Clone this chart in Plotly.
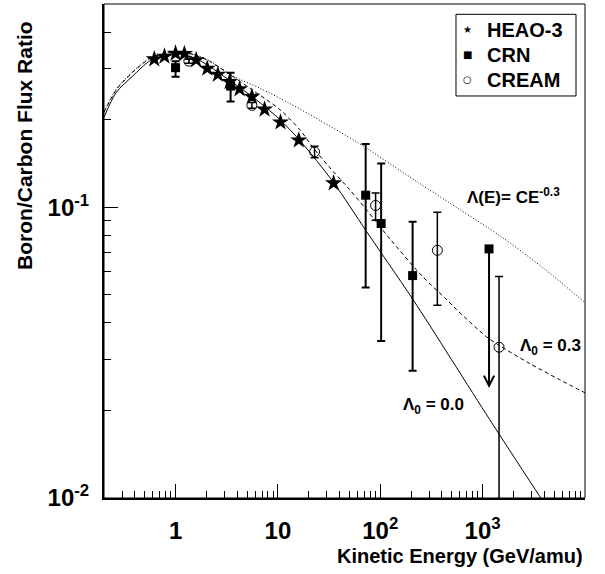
import numpy as np
import plotly.graph_objects as go

# ---------------- data ----------------
heao_E = [0.62, 0.78, 1.0, 1.22, 1.59, 2.04, 2.59, 3.37, 4.22, 5.57, 7.41, 10.6, 16.0, 35.0]
heao_R = [0.323, 0.330, 0.338, 0.337, 0.321, 0.300, 0.286, 0.270, 0.255, 0.240, 0.217, 0.196, 0.170, 0.121]

crn_E = [1.0, 3.45, 72.0, 102.0, 207.0]
crn_R = [0.302, 0.261, 0.110, 0.0879, 0.0582]
crn_hi = [0.318, 0.290, 0.165, 0.1414, 0.0891]
crn_lo = [0.281, 0.231, 0.053, 0.0347, 0.0274]

crn_lim_E = 1155.0
crn_lim_R = 0.0719
crn_lim_to = 0.0239

cream_E = [1.35, 5.57, 22.8, 90.0, 361.0, 1446.0]
cream_R = [0.318, 0.224, 0.155, 0.1014, 0.0711, 0.0330]
cream_hi = [0.323, 0.229, 0.162, 0.112, 0.0961, 0.0578]
cream_lo = [0.313, 0.219, 0.148, 0.0902, 0.0460, 0.005]

# model curves
m00_E = [0.2, 0.263, 0.383, 0.557, 0.781, 1.094, 1.57, 2.15, 3.37, 5.54, 10.4, 16.3, 35.0, 73.1, 209.0, 1173.0, 3700.0, 10000.0]
m00_R = [0.204, 0.248, 0.283, 0.318, 0.330, 0.336, 0.325, 0.305, 0.273, 0.241, 0.2005, 0.170, 0.1216, 0.0827, 0.0481, 0.0186, 0.0100, 0.00588]

m03_E = [0.2, 0.265, 0.380, 0.557, 0.781, 1.094, 1.57, 2.15, 3.37, 5.54, 10.4, 16.3, 22.8, 32.0, 50.2, 86.2, 123.6, 259.6, 445.7, 558.0, 1096.0, 1469.0, 2886.0, 5672.0, 10000.0]
m03_R = [0.212, 0.254, 0.291, 0.324, 0.337, 0.342, 0.333, 0.3177, 0.2865, 0.254, 0.217, 0.185, 0.158, 0.137, 0.115, 0.0914, 0.0780, 0.0577, 0.0481, 0.0444, 0.0358, 0.0334, 0.0290, 0.0255, 0.0230]

mpl_E = [0.2, 0.265, 0.380, 0.557, 0.781, 1.094, 1.57, 2.15, 3.61, 6.62, 13.0, 25.6, 60.1, 227.0, 597.0, 1469.0, 3867.0, 10000.0]
mpl_R = [0.2137, 0.2557, 0.2923, 0.3253, 0.3385, 0.3438, 0.3344, 0.3189, 0.283, 0.257, 0.2277, 0.199, 0.167, 0.1226, 0.0982, 0.0799, 0.0620, 0.0470]

x_major = [1, 10, 100, 1000]
x_major_text = ["1", "10", "10<sup>2</sup>", "10<sup>3</sup>"]
y_major = [0.01, 0.1]
y_major_text = ["10<sup>-2</sup>", "10<sup>-1</sup>"]

x_minor = [m * 10.0 ** d for d in range(-1, 4) for m in range(2, 10) if m * 10.0 ** d > 0.2]
y_minor = [m * 10.0 ** d for d in (-2, -1) for m in range(2, 10) if m * 10.0 ** d < 0.5]

legend_names = ["HEAO-3", "CRN", "CREAM"]
legend_glyphs = ["★", "■", "○"]

FONT = "Liberation Sans, Arial, Helvetica, sans-serif"
BLACK = "black"

fig = go.Figure()

# model curves
fig.add_trace(go.Scatter(x=mpl_E, y=mpl_R, mode="lines", showlegend=False,
                         line=dict(color=BLACK, width=1, dash="1px,2px", shape="spline", smoothing=0.8)))
fig.add_trace(go.Scatter(x=m03_E, y=m03_R, mode="lines", showlegend=False,
                         line=dict(color=BLACK, width=1, dash="4px,3px", shape="spline", smoothing=0.8)))
fig.add_trace(go.Scatter(x=m00_E, y=m00_R, mode="lines", showlegend=False,
                         line=dict(color=BLACK, width=1, shape="spline", smoothing=0.8)))

# measurements
fig.add_trace(go.Scatter(
    x=cream_E, y=cream_R, mode="markers", showlegend=False,
    marker=dict(symbol="circle-open", size=10, color=BLACK, line=dict(width=1)),
    error_y=dict(type="data", symmetric=False,
                 array=[h - r for h, r in zip(cream_hi, cream_R)],
                 arrayminus=[r - l for r, l in zip(cream_R, cream_lo)],
                 color=BLACK, thickness=1.5, width=4)))
fig.add_trace(go.Scatter(
    x=crn_E, y=crn_R, mode="markers", showlegend=False,
    marker=dict(symbol="square", size=9, color=BLACK),
    error_y=dict(type="data", symmetric=False,
                 array=[h - r for h, r in zip(crn_hi, crn_R)],
                 arrayminus=[r - l for r, l in zip(crn_R, crn_lo)],
                 color=BLACK, thickness=2, width=4)))
fig.add_trace(go.Scatter(
    x=[crn_lim_E], y=[crn_lim_R], mode="markers", showlegend=False,
    marker=dict(symbol="square", size=9, color=BLACK)))
fig.add_trace(go.Scatter(
    x=heao_E, y=heao_R, mode="markers", showlegend=False,
    marker=dict(symbol="star", size=13, color=BLACK, line=dict(width=0))))

# upper limit arrow
fig.add_annotation(x=np.log10(crn_lim_E), y=np.log10(crn_lim_to),
                   ax=np.log10(crn_lim_E), ay=np.log10(crn_lim_R),
                   xref="x", yref="y", axref="x", ayref="y", text="",
                   showarrow=True, arrowhead=5, arrowsize=1, arrowwidth=2,
                   arrowcolor=BLACK, standoff=0, startstandoff=0)

lab_font = dict(family=FONT, size=17, color=BLACK, weight="bold")
fig.add_annotation(x=np.log10(668), y=np.log10(0.1097), xref="x", yref="y",
                   text="Λ(E)= CE<sup>-0.3</sup>", showarrow=False,
                   xanchor="left", yanchor="middle", font=lab_font)
fig.add_annotation(x=np.log10(2203), y=np.log10(0.0331), xref="x", yref="y",
                   text="Λ<sub>0</sub> = 0.3", showarrow=False,
                   xanchor="left", yanchor="middle", font=lab_font)
fig.add_annotation(x=np.log10(160.8), y=np.log10(0.0207), xref="x", yref="y",
                   text="Λ<sub>0</sub> = 0.0", showarrow=False,
                   xanchor="left", yanchor="middle", font=lab_font)

# legend box
fig.add_shape(type="rect", xref="paper", yref="paper",
              x0=0.7318, y0=0.8138, x1=0.9813, y1=0.9791,
              line=dict(color=BLACK, width=1), fillcolor="white", layer="above")
leg_font = dict(family=FONT, size=20, color=BLACK, weight="bold")
sym_font = dict(family="DejaVu Sans", size=10, color=BLACK)
for i, (name, glyph) in enumerate(zip(legend_names, legend_glyphs)):
    yy = 0.9474 - i * 0.0506
    fig.add_annotation(x=0.7547, y=yy, xref="paper", yref="paper", text=glyph,
                       showarrow=False, xanchor="center", yanchor="middle", font=sym_font)
    fig.add_annotation(x=0.7920, y=yy, xref="paper", yref="paper", text=name,
                       showarrow=False, xanchor="left", yanchor="middle", font=leg_font)

# axis titles
title_font = dict(family=FONT, size=20, color=BLACK, weight="bold")
fig.add_annotation(x=1.0, y=-0.117, xref="paper", yref="paper",
                   text="Kinetic Energy (GeV/amu)", showarrow=False,
                   xanchor="right", yanchor="middle", font=title_font)
fig.add_annotation(x=-0.164, y=0.713, xref="paper", yref="paper",
                   text="Boron/Carbon Flux Ratio", showarrow=False, textangle=-90,
                   xanchor="center", yanchor="middle", font=dict(title_font, size=21))

# frame
fig.add_shape(type="rect", xref="paper", yref="paper", x0=0, y0=0, x1=1, y1=1,
              line=dict(color=BLACK, width=1), layer="above")

tick_font = dict(family=FONT, size=24, color=BLACK, weight="bold")
fig.update_xaxes(type="log", range=[np.log10(0.2), 4.0],
                 tickmode="array", tickvals=x_major, ticktext=x_major_text,
                 ticks="inside", ticklen=14, tickwidth=1, tickcolor=BLACK,
                 minor=dict(tickmode="array", tickvals=x_minor, ticks="inside",
                            ticklen=7, tickwidth=1, tickcolor=BLACK, showgrid=False),
                 showline=True, linewidth=2, linecolor=BLACK,
                 showgrid=False, zeroline=False, tickfont=tick_font,
                 ticklabelstandoff=10)
fig.update_yaxes(type="log", range=[-2.0, np.log10(0.5)],
                 tickmode="array", tickvals=y_major, ticktext=y_major_text,
                 ticks="inside", ticklen=14, tickwidth=1, tickcolor=BLACK,
                 minor=dict(tickmode="array", tickvals=y_minor, ticks="inside",
                            ticklen=7, tickwidth=1, tickcolor=BLACK, showgrid=False),
                 showline=True, linewidth=2, linecolor=BLACK,
                 showgrid=False, zeroline=False, tickfont=tick_font,
                 ticklabelstandoff=8)

fig.update_layout(
    width=605, height=574,
    margin=dict(l=104, r=20, t=4, b=76),
    paper_bgcolor="white", plot_bgcolor="white",
    font=dict(family=FONT, color=BLACK),
    showlegend=False,
)

fig.write_html("out.html")
